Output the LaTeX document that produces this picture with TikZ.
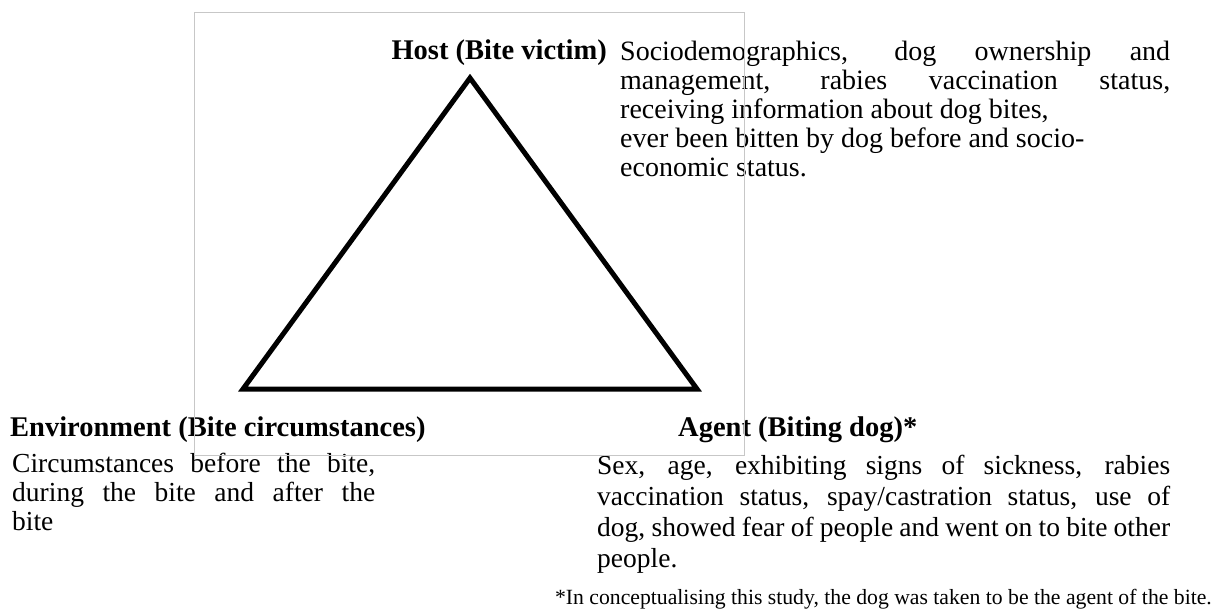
\documentclass[tikz,border=0pt]{standalone}
\usepackage{fontspec}
\setmainfont{Liberation Serif}
\begin{document}
\begin{tikzpicture}[x=1pt,y=-1pt,
  heading/.style={inner sep=0pt,font=\fontsize{28.5}{31}\selectfont\bfseries},
  bodytext/.style={inner sep=0pt,font=\fontsize{27.5}{29}\selectfont},
  notetext/.style={inner sep=0pt,font=\fontsize{21.7}{23}\selectfont},
  frame/.style={draw=black!22,line width=0.8pt},
  triad/.style={draw=black,line width=5pt,line join=miter}]
\useasboundingbox (0,0) rectangle (1217,609);

% epidemiological triad
\coordinate (host) at (470,78);
\coordinate (env) at (243,389);
\coordinate (agent) at (697,389);
\draw[triad] (host) -- (env) -- (agent) -- cycle;

% host
\node[heading,anchor=base east] (hostlabel) at (607,60) {Host (Bite victim)};
\node[bodytext,anchor=base west] (hosttext) at (620,61) {\parbox[t]{550pt}{\fontsize{28}{29}\selectfont
\makebox[550pt][s]{Sociodemographics, dog ownership and}\\
\makebox[550pt][s]{management, rabies vaccination status,}\\
receiving information about dog bites,\\
ever been bitten by dog before and socio-\\
economic status.}};

% environment
\node[heading,anchor=base west] (envlabel) at (10,436) {Environment (Bite circumstances)};
\node[bodytext,anchor=base west] (envtext) at (12,472) {\parbox[t]{363pt}{\fontsize{27.5}{29}\selectfont
\makebox[363pt][s]{Circumstances before the bite,}\\
\makebox[363pt][s]{during the bite and after the}\\
bite}};

% agent
\node[heading,anchor=base west] (agentlabel) at (678,436) {Agent (Biting dog)*};
\node[bodytext,anchor=base west] (agenttext) at (597,474) {\parbox[t]{573pt}{\fontsize{27.5}{31}\selectfont
\makebox[573pt][s]{Sex, age, exhibiting signs of sickness, rabies}\\
\makebox[573pt][s]{vaccination status, spay/castration status, use of}\\
\makebox[573pt][s]{dog, showed fear of people and went on to bite other}\\
people.}};

% footnote
\node[notetext,anchor=base east] (note) at (1212,604) {*In conceptualising this study, the dog was taken to be the agent of the bite.};

% thin outline around the triangle
\draw[frame] (194,12) rectangle (744,455);
\end{tikzpicture}
\end{document}
